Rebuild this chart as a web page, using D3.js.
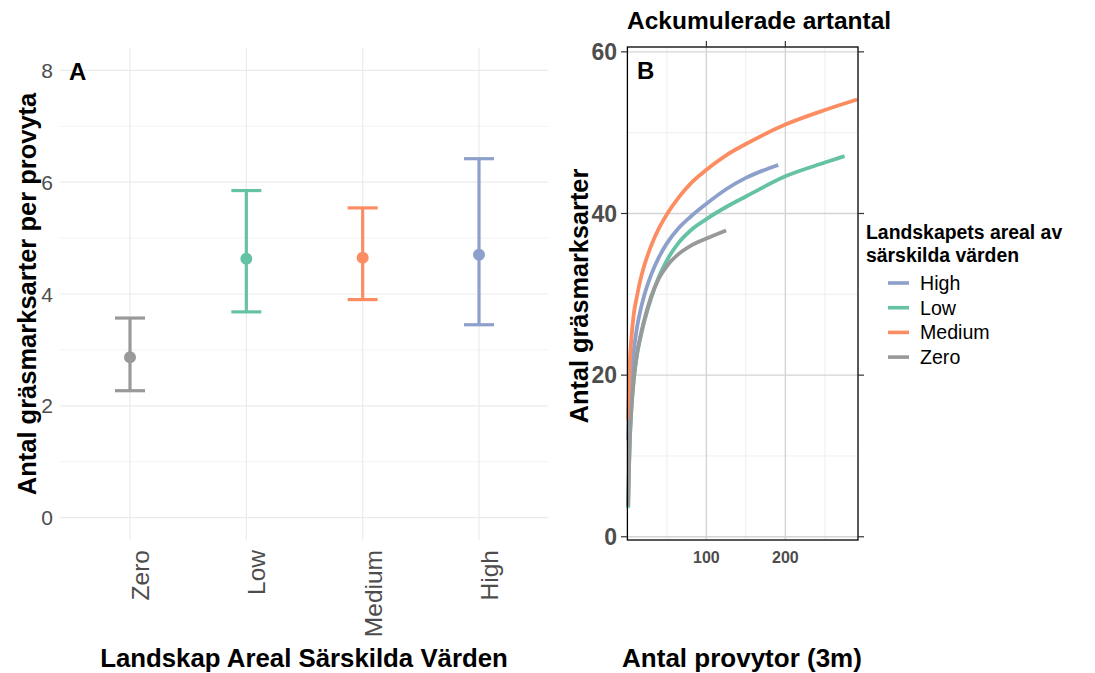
<!DOCTYPE html>
<html>
<head>
<meta charset="utf-8">
<script src="https://cdn.jsdelivr.net/npm/d3@7"></script>
<style>
  html, body { margin: 0; padding: 0; background: #fff; }
  svg { display: block; font-family: "Liberation Sans", Arial, sans-serif; }
</style>
</head>
<body>
<svg id="chart" width="1095" height="673"></svg>
<script>
// ---- data ----
var categories = ['Zero', 'Low', 'Medium', 'High'];
var meanVals  = [2.87, 4.63, 4.65, 4.70];
var lowerVals = [2.27, 3.68, 3.90, 3.45];
var upperVals = [3.57, 5.85, 5.54, 6.42];

var yTicksA = [0, 2, 4, 6, 8];
var yTicksB = [0, 20, 40, 60];
var xTicksB = [100, 200];

// accumulation curves: [antal provytor, antal arter]
var curveHigh = [[1, 12], [2, 15.5], [3, 17.5], [5, 20.5], [8, 23], [12, 25.8], [16, 27.8], [20, 29.4],
  [30, 32.4], [40, 34.6], [50, 36.3], [65, 38.2], [80, 39.6], [100, 41.2], [125, 43], [150, 44.4], [191, 46]];
var curveLow = [[1, 3.6], [2, 8.3], [3, 11.6], [5, 15.6], [8, 19.3], [12, 22.4], [16, 24.4], [20, 26.1],
  [30, 29.5], [40, 32.2], [50, 34.2], [65, 36.4], [80, 37.9], [100, 39.3], [125, 40.8], [150, 42.1],
  [200, 44.6], [250, 46.3], [275, 47.1]];
var curveMedium = [[1, 14.5], [2, 19], [3, 21.5], [5, 24.5], [8, 27.5], [12, 29.7], [16, 31.6], [20, 33.1],
  [30, 36], [40, 38.2], [50, 39.9], [65, 42], [80, 43.7], [100, 45.4], [125, 47.2], [150, 48.6],
  [200, 51], [250, 52.8], [291, 54.1]];
var curveZero = [[1, 3.8], [2, 8.5], [3, 11.8], [5, 15.8], [8, 19.5], [12, 22.6], [16, 24.6], [20, 26.3],
  [30, 29.7], [40, 32], [50, 33.5], [65, 35], [80, 36], [100, 36.9], [125, 37.9]];

var legendKeys = ['High', 'Low', 'Medium', 'Zero'];
var curves = { High: curveHigh, Low: curveLow, Medium: curveMedium, Zero: curveZero };

var color = d3.scaleOrdinal()
  .domain(['Zero', 'Low', 'Medium', 'High'])
  .range(['#999999', '#66C2A5', '#FC8D62', '#8DA0CB']);

var svg = d3.select('#chart');
var tickGrey = '#4d4d4d';

// ================= Panel A =================
var xA = d3.scalePoint().domain(categories).range([130, 479]);
var yA = d3.scaleLinear().domain([-0.4, 8.4]).range([540, 48]);
var gA = svg.append('g');

// grid: minor, major, vertical
gA.selectAll('.minorA').data([1, 3, 5, 7]).join('line')
  .attr('x1', 60).attr('x2', 548)
  .attr('y1', function (d) { return yA(d); }).attr('y2', function (d) { return yA(d); })
  .attr('stroke', '#f3f3f3').attr('stroke-width', 1);
gA.selectAll('.majorA').data(yTicksA).join('line')
  .attr('x1', 60).attr('x2', 548)
  .attr('y1', function (d) { return yA(d); }).attr('y2', function (d) { return yA(d); })
  .attr('stroke', '#ebebeb').attr('stroke-width', 1.2);
gA.selectAll('.vA').data(categories).join('line')
  .attr('x1', function (d) { return xA(d); }).attr('x2', function (d) { return xA(d); })
  .attr('y1', 48).attr('y2', 540)
  .attr('stroke', '#ebebeb').attr('stroke-width', 1.2);

// y tick labels
gA.selectAll('.ytA').data(yTicksA).join('text')
  .attr('x', 53).attr('y', function (d) { return yA(d); })
  .attr('dy', '0.36em').attr('text-anchor', 'end')
  .attr('font-size', 21).attr('fill', tickGrey)
  .text(function (d) { return d; });

// x tick labels (rotated)
gA.selectAll('.xtA').data(categories).join('text')
  .attr('transform', function (d) { return 'translate(' + (xA(d) + 19) + ',550) rotate(-90)'; })
  .attr('text-anchor', 'end')
  .attr('font-size', 24.5).attr('fill', tickGrey)
  .text(function (d) { return d; });

// error bars
var eb = gA.selectAll('.eb').data(categories).join('g')
  .attr('stroke', function (d) { return color(d); })
  .attr('stroke-width', 3.2);
eb.append('line')
  .attr('x1', function (d) { return xA(d); }).attr('x2', function (d) { return xA(d); })
  .attr('y1', function (d, i) { return yA(upperVals[i]); })
  .attr('y2', function (d, i) { return yA(lowerVals[i]); });
eb.append('line')
  .attr('x1', function (d) { return xA(d) - 15; }).attr('x2', function (d) { return xA(d) + 15; })
  .attr('y1', function (d, i) { return yA(upperVals[i]); })
  .attr('y2', function (d, i) { return yA(upperVals[i]); });
eb.append('line')
  .attr('x1', function (d) { return xA(d) - 15; }).attr('x2', function (d) { return xA(d) + 15; })
  .attr('y1', function (d, i) { return yA(lowerVals[i]); })
  .attr('y2', function (d, i) { return yA(lowerVals[i]); });
gA.selectAll('.pt').data(categories).join('circle')
  .attr('cx', function (d) { return xA(d); })
  .attr('cy', function (d, i) { return yA(meanVals[i]); })
  .attr('r', 6)
  .attr('fill', function (d) { return color(d); });

// titles
gA.append('text').attr('x', 69).attr('y', 80)
  .attr('font-size', 24).attr('font-weight', 'bold').text('A');
gA.append('text')
  .attr('transform', 'translate(36,294) rotate(-90)')
  .attr('text-anchor', 'middle').attr('font-size', 25.5).attr('font-weight', 'bold')
  .text('Antal gräsmarksarter per provyta');
gA.append('text').attr('x', 304).attr('y', 667)
  .attr('text-anchor', 'middle').attr('font-size', 25.8).attr('font-weight', 'bold')
  .text('Landskap Areal Särskilda Värden');

// ================= Panel B =================
var xB = d3.scaleLinear().domain([0, 292]).range([627.4, 858]);
var yB = d3.scaleLinear().domain([-0.4, 60.6]).range([540, 47]);
var gB = svg.append('g');

// minor grid
gB.selectAll('.mxB').data([50, 150, 250]).join('line')
  .attr('x1', function (d) { return xB(d); }).attr('x2', function (d) { return xB(d); })
  .attr('y1', 47).attr('y2', 540)
  .attr('stroke', '#ebebeb').attr('stroke-width', 0.8);
gB.selectAll('.myB').data([10, 30, 50]).join('line')
  .attr('x1', 627.4).attr('x2', 858)
  .attr('y1', function (d) { return yB(d); }).attr('y2', function (d) { return yB(d); })
  .attr('stroke', '#ebebeb').attr('stroke-width', 0.8);
// major grid
gB.selectAll('.gxB').data(xTicksB).join('line')
  .attr('x1', function (d) { return xB(d); }).attr('x2', function (d) { return xB(d); })
  .attr('y1', 47).attr('y2', 540)
  .attr('stroke', '#d4d4d4').attr('stroke-width', 1.4);
gB.selectAll('.gyB').data(yTicksB).join('line')
  .attr('x1', 627.4).attr('x2', 858)
  .attr('y1', function (d) { return yB(d); }).attr('y2', function (d) { return yB(d); })
  .attr('stroke', '#d4d4d4').attr('stroke-width', 1.4);

// curves
var line = d3.line()
  .x(function (d) { return xB(d[0]); })
  .y(function (d) { return yB(d[1]); })
  .curve(d3.curveMonotoneX);
gB.selectAll('.curve').data(legendKeys).join('path')
  .attr('d', function (k) { return line(curves[k]); })
  .attr('fill', 'none')
  .attr('stroke', function (k) { return color(k); })
  .attr('stroke-width', 3.8)
  .attr('stroke-linecap', 'butt');

// panel border
gB.append('rect').attr('x', 627.4).attr('y', 47).attr('width', 858 - 627.4).attr('height', 493)
  .attr('fill', 'none').attr('stroke', '#000').attr('stroke-width', 1.3);

// ticks left/right/top
gB.selectAll('.tl').data(yTicksB).join('line')
  .attr('x1', 621).attr('x2', 627.4)
  .attr('y1', function (d) { return yB(d); }).attr('y2', function (d) { return yB(d); })
  .attr('stroke', '#333').attr('stroke-width', 1.2);
gB.selectAll('.tr').data(yTicksB).join('line')
  .attr('x1', 858).attr('x2', 864)
  .attr('y1', function (d) { return yB(d); }).attr('y2', function (d) { return yB(d); })
  .attr('stroke', '#333').attr('stroke-width', 1.2);
gB.selectAll('.tt').data(xTicksB).join('line')
  .attr('x1', function (d) { return xB(d); }).attr('x2', function (d) { return xB(d); })
  .attr('y1', 41).attr('y2', 47)
  .attr('stroke', '#333').attr('stroke-width', 1.2);

// tick labels
gB.selectAll('.ylB').data(yTicksB).join('text')
  .attr('x', 617).attr('y', function (d) { return yB(d); })
  .attr('dy', '0.36em').attr('text-anchor', 'end')
  .attr('font-size', 23).attr('font-weight', 'bold').attr('fill', tickGrey)
  .text(function (d) { return d; });
gB.selectAll('.xlB').data(xTicksB).join('text')
  .attr('x', function (d) { return xB(d); }).attr('y', 563)
  .attr('text-anchor', 'middle')
  .attr('font-size', 16).attr('font-weight', 'bold').attr('fill', tickGrey)
  .text(function (d) { return d; });

// labels
gB.append('text').attr('x', 637).attr('y', 79)
  .attr('font-size', 24).attr('font-weight', 'bold').text('B');
gB.append('text').attr('x', 627).attr('y', 29)
  .attr('font-size', 24.5).attr('font-weight', 'bold').text('Ackumulerade artantal');
gB.append('text')
  .attr('transform', 'translate(588,296) rotate(-90)')
  .attr('text-anchor', 'middle').attr('font-size', 25.3).attr('font-weight', 'bold')
  .text('Antal gräsmarksarter');
gB.append('text').attr('x', 742).attr('y', 667)
  .attr('text-anchor', 'middle').attr('font-size', 26).attr('font-weight', 'bold')
  .text('Antal provytor (3m)');

// legend
var lg = svg.append('g').attr('transform', 'translate(866,0)');
lg.append('text').attr('x', 0).attr('y', 239)
  .attr('font-size', 19.4).attr('font-weight', 'bold').text('Landskapets areal av');
lg.append('text').attr('x', 0).attr('y', 262)
  .attr('font-size', 19.4).attr('font-weight', 'bold').text('särskilda värden');
var item = lg.selectAll('.li').data(legendKeys).join('g')
  .attr('transform', function (d, i) { return 'translate(0,' + (283 + i * 24.7) + ')'; });
item.append('line').attr('x1', 22).attr('x2', 43).attr('y1', 0).attr('y2', 0)
  .attr('stroke', function (d) { return color(d); }).attr('stroke-width', 3.6);
item.append('text').attr('x', 54).attr('y', 0).attr('dy', '0.36em')
  .attr('font-size', 19.6).text(function (d) { return d; });
</script>
</body>
</html>
